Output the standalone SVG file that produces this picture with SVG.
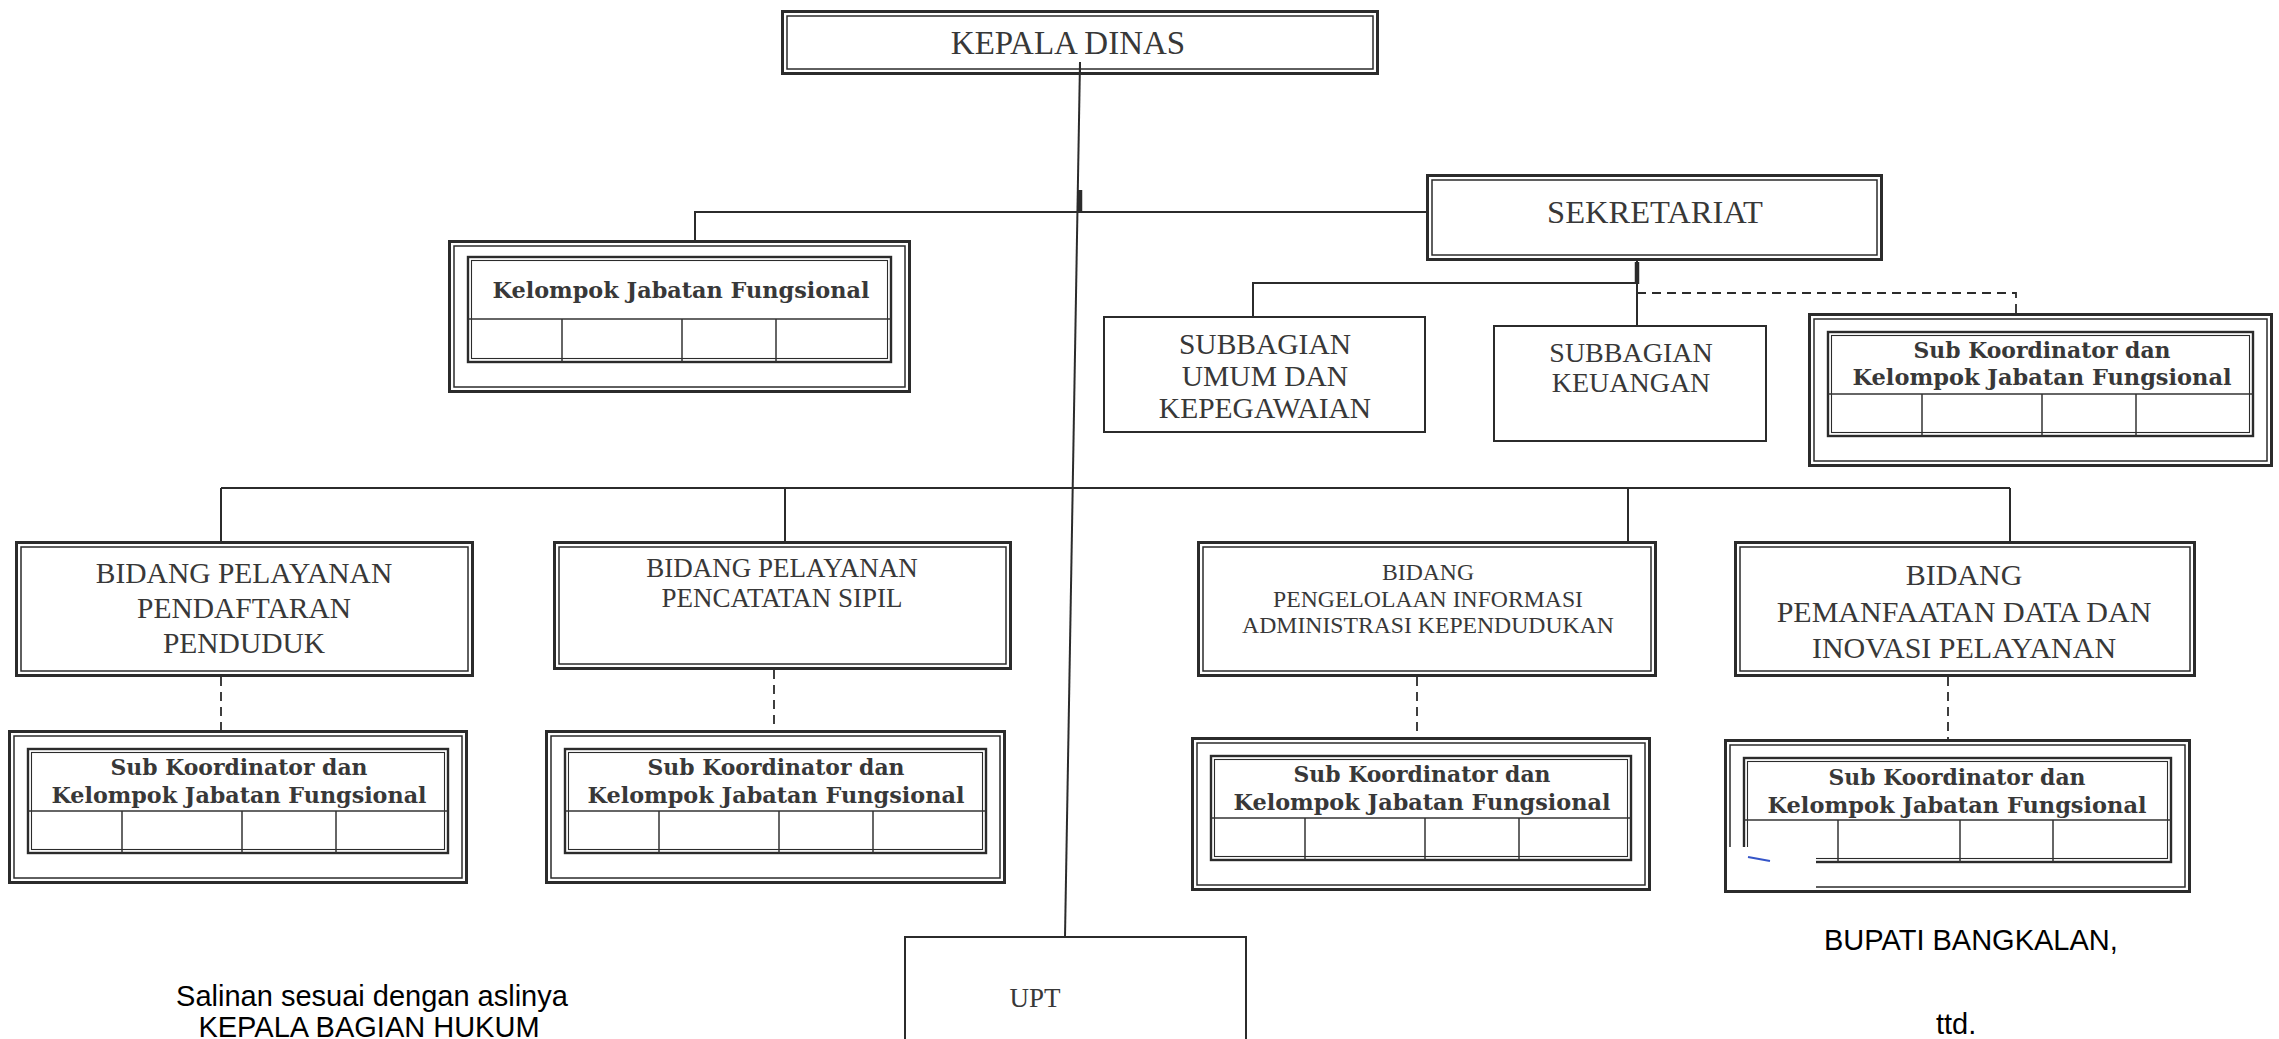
<svg xmlns="http://www.w3.org/2000/svg" width="2279" height="1039" viewBox="0 0 2279 1039">
<style>
.o{fill:none;stroke:#2b2b2b;stroke-width:3}
.i{fill:none;stroke:#2b2b2b;stroke-width:1.5}
.t{fill:none;stroke:#2b2b2b;stroke-width:2.4}
.ti{fill:none;stroke:#2b2b2b;stroke-width:1.1}
.g{stroke:#333;stroke-width:1.5;fill:none}
.s{fill:#fff;stroke:#2b2b2b;stroke-width:2}
.ln{stroke:#2b2b2b;stroke-width:2;fill:none}
.thk{stroke:#2b2b2b;stroke-width:4.5;fill:none}
.dash{stroke:#2b2b2b;stroke-width:1.8;fill:none;stroke-dasharray:9 6}
.r{font-family:"Liberation Serif","Times New Roman",serif;fill:#383838;text-anchor:middle}
.b{font-family:"DejaVu Serif","Liberation Serif",serif;font-weight:bold;fill:#383838;text-anchor:middle;font-size:21.5px}
.sans{font-family:"Liberation Sans",Arial,sans-serif;fill:#000;font-size:29px}
</style>
<rect width="2279" height="1039" fill="#fff"/>

<g id="connectors">
<line class="ln" x1="1080" y1="62" x2="1065" y2="937"/>
<line class="thk" x1="1080" y1="190" x2="1080" y2="213"/>
<polyline class="ln" points="695,240 695,212 1426,212"/>
<line class="ln" x1="1637" y1="260" x2="1637" y2="326"/>
<line class="thk" x1="1637" y1="262" x2="1637" y2="284"/>
<polyline class="ln" points="1253,317 1253,283 1637,283"/>
<polyline class="dash" points="1637,293 2016,293 2016,313"/>
<line class="ln" x1="221" y1="488" x2="2010" y2="488"/>
<line class="ln" x1="221" y1="488" x2="221" y2="541"/>
<line class="ln" x1="785" y1="488" x2="785" y2="541"/>
<line class="ln" x1="1628" y1="488" x2="1628" y2="541"/>
<line class="ln" x1="2010" y1="488" x2="2010" y2="541"/>
<line class="dash" x1="221" y1="677" x2="221" y2="730"/>
<line class="dash" x1="774" y1="670" x2="774" y2="730"/>
<line class="dash" x1="1417" y1="677" x2="1417" y2="737"/>
<line class="dash" x1="1948" y1="677" x2="1948" y2="739"/>
</g>

<g id="kepala-dinas">
<rect class="o" x="782.5" y="11.5" width="595" height="62" fill="#fff"/>
<rect class="i" x="787" y="16" width="586" height="53"/>
<line class="ln" x1="1080" y1="62" x2="1080" y2="75"/>
<text class="r" x="1068" y="54" font-size="33">KEPALA DINAS</text>
</g>

<g id="kelompok-jf">
<rect class="o" x="449.5" y="241.5" width="460" height="150" fill="#fff"/>
<rect class="i" x="454" y="246" width="451" height="141"/>
<rect class="t" x="468" y="257" width="423" height="105"/>
<rect class="ti" x="471.5" y="260.5" width="416" height="98"/>
<line class="g" x1="468" y1="319" x2="891" y2="319"/>
<line class="g" x1="562" y1="319" x2="562" y2="362"/>
<line class="g" x1="682" y1="319" x2="682" y2="362"/>
<line class="g" x1="776" y1="319" x2="776" y2="362"/>
<text class="b" x="681" y="298" textLength="377" lengthAdjust="spacingAndGlyphs">Kelompok Jabatan Fungsional</text>
</g>

<g id="sekretariat">
<rect class="o" x="1427.5" y="175.5" width="454" height="84" fill="#fff"/>
<rect class="i" x="1432" y="180" width="445" height="75"/>
<text class="r" x="1655" y="223" font-size="32.5">SEKRETARIAT</text>
</g>

<g id="subbagian-umum">
<rect class="s" x="1104" y="317" width="321" height="115"/>
<text class="r" x="1265" y="354" font-size="29.5">SUBBAGIAN</text>
<text class="r" x="1265" y="386" font-size="29.5">UMUM DAN</text>
<text class="r" x="1265" y="418" font-size="29.5">KEPEGAWAIAN</text>
</g>

<g id="subbagian-keuangan">
<rect class="s" x="1494" y="326" width="272" height="115"/>
<text class="r" x="1631" y="362" font-size="28">SUBBAGIAN</text>
<text class="r" x="1631" y="392" font-size="28">KEUANGAN</text>
</g>

<g id="sekretariat-skjf">
<rect class="o" x="1809.5" y="314.5" width="462" height="151" fill="#fff"/>
<rect class="i" x="1814" y="319" width="453" height="142"/>
<rect class="t" x="1828" y="332" width="425" height="104"/>
<rect class="ti" x="1831.5" y="335.5" width="418" height="97"/>
<line class="g" x1="1828" y1="394" x2="2253" y2="394"/>
<line class="g" x1="1922" y1="394" x2="1922" y2="436"/>
<line class="g" x1="2042" y1="394" x2="2042" y2="436"/>
<line class="g" x1="2136" y1="394" x2="2136" y2="436"/>
<text class="b" x="2042" y="358" textLength="257" lengthAdjust="spacingAndGlyphs">Sub Koordinator dan</text>
<text class="b" x="2042" y="385" textLength="379" lengthAdjust="spacingAndGlyphs">Kelompok Jabatan Fungsional</text>
</g>

<g id="bidang-pendaftaran">
<rect class="o" x="16.5" y="542.5" width="456" height="133" fill="#fff"/>
<rect class="i" x="21" y="547" width="447" height="124"/>
<text class="r" x="244" y="583" font-size="29.5">BIDANG PELAYANAN</text>
<text class="r" x="244" y="618" font-size="29.5">PENDAFTARAN</text>
<text class="r" x="244" y="653" font-size="29.5">PENDUDUK</text>
</g>

<g id="bidang-pencatatan">
<rect class="o" x="554.5" y="542.5" width="456" height="126" fill="#fff"/>
<rect class="i" x="559" y="547" width="447" height="117"/>
<text class="r" x="782" y="577" font-size="27">BIDANG PELAYANAN</text>
<text class="r" x="782" y="607" font-size="27">PENCATATAN SIPIL</text>
</g>

<g id="bidang-pengelolaan">
<rect class="o" x="1198.5" y="542.5" width="457" height="133" fill="#fff"/>
<rect class="i" x="1203" y="547" width="448" height="124"/>
<text class="r" x="1428" y="580" font-size="23.7">BIDANG</text>
<text class="r" x="1428" y="607" font-size="23.7">PENGELOLAAN INFORMASI</text>
<text class="r" x="1428" y="633" font-size="23.7">ADMINISTRASI KEPENDUDUKAN</text>
</g>

<g id="bidang-pemanfaatan">
<rect class="o" x="1735.5" y="542.5" width="459" height="133" fill="#fff"/>
<rect class="i" x="1740" y="547" width="450" height="124"/>
<text class="r" x="1964" y="585" font-size="30">BIDANG</text>
<text class="r" x="1964" y="622" font-size="30">PEMANFAATAN DATA DAN</text>
<text class="r" x="1964" y="658" font-size="30">INOVASI PELAYANAN</text>
</g>

<g id="skjf-pendaftaran">
<rect class="o" x="9.5" y="731.5" width="457" height="151" fill="#fff"/>
<rect class="i" x="14" y="736" width="448" height="142"/>
<rect class="t" x="28" y="749" width="420" height="104"/>
<rect class="ti" x="31.5" y="752.5" width="413" height="97"/>
<line class="g" x1="28" y1="811" x2="448" y2="811"/>
<line class="g" x1="122" y1="811" x2="122" y2="853"/>
<line class="g" x1="242" y1="811" x2="242" y2="853"/>
<line class="g" x1="336" y1="811" x2="336" y2="853"/>
<text class="b" x="239" y="775" textLength="257" lengthAdjust="spacingAndGlyphs">Sub Koordinator dan</text>
<text class="b" x="239" y="803" textLength="375" lengthAdjust="spacingAndGlyphs">Kelompok Jabatan Fungsional</text>
</g>

<g id="skjf-pencatatan">
<rect class="o" x="546.5" y="731.5" width="458" height="151" fill="#fff"/>
<rect class="i" x="551" y="736" width="449" height="142"/>
<rect class="t" x="565" y="749" width="421" height="104"/>
<rect class="ti" x="568.5" y="752.5" width="414" height="97"/>
<line class="g" x1="565" y1="811" x2="986" y2="811"/>
<line class="g" x1="659" y1="811" x2="659" y2="853"/>
<line class="g" x1="779" y1="811" x2="779" y2="853"/>
<line class="g" x1="873" y1="811" x2="873" y2="853"/>
<text class="b" x="776" y="775" textLength="257" lengthAdjust="spacingAndGlyphs">Sub Koordinator dan</text>
<text class="b" x="776" y="803" textLength="377" lengthAdjust="spacingAndGlyphs">Kelompok Jabatan Fungsional</text>
</g>

<g id="skjf-pengelolaan">
<rect class="o" x="1192.5" y="738.5" width="457" height="151" fill="#fff"/>
<rect class="i" x="1197" y="743" width="448" height="142"/>
<rect class="t" x="1211" y="756" width="420" height="104"/>
<rect class="ti" x="1214.5" y="759.5" width="413" height="97"/>
<line class="g" x1="1211" y1="818" x2="1631" y2="818"/>
<line class="g" x1="1305" y1="818" x2="1305" y2="860"/>
<line class="g" x1="1425" y1="818" x2="1425" y2="860"/>
<line class="g" x1="1519" y1="818" x2="1519" y2="860"/>
<text class="b" x="1422" y="782" textLength="257" lengthAdjust="spacingAndGlyphs">Sub Koordinator dan</text>
<text class="b" x="1422" y="810" textLength="377" lengthAdjust="spacingAndGlyphs">Kelompok Jabatan Fungsional</text>
</g>

<g id="skjf-pemanfaatan">
<rect class="o" x="1725.5" y="740.5" width="464" height="151" fill="#fff"/>
<rect class="i" x="1730" y="745" width="455" height="142"/>
<rect class="t" x="1744" y="758" width="427" height="104"/>
<rect class="ti" x="1747.5" y="761.5" width="420" height="97"/>
<line class="g" x1="1744" y1="820" x2="2171" y2="820"/>
<line class="g" x1="1838" y1="820" x2="1838" y2="862"/>
<line class="g" x1="1960" y1="820" x2="1960" y2="862"/>
<line class="g" x1="2053" y1="820" x2="2053" y2="862"/>
<text class="b" x="1957" y="785" textLength="257" lengthAdjust="spacingAndGlyphs">Sub Koordinator dan</text>
<text class="b" x="1957" y="813" textLength="379" lengthAdjust="spacingAndGlyphs">Kelompok Jabatan Fungsional</text>
<rect x="1729" y="847" width="87" height="42" fill="#fff"/>
<line x1="1748" y1="857" x2="1770" y2="861" stroke="#3555c8" stroke-width="2"/>
</g>

<g id="upt">
<rect class="s" x="905" y="937" width="341" height="110"/>
<text class="r" x="1035" y="1007" font-size="27">UPT</text>
</g>

<g id="signatures">
<text class="sans" x="372" y="1006" text-anchor="middle">Salinan sesuai dengan aslinya</text>
<text class="sans" x="369" y="1037" text-anchor="middle">KEPALA BAGIAN HUKUM</text>
<text class="sans" x="1824" y="950">BUPATI BANGKALAN,</text>
<text class="sans" x="1936" y="1034">ttd.</text>
</g>
</svg>
